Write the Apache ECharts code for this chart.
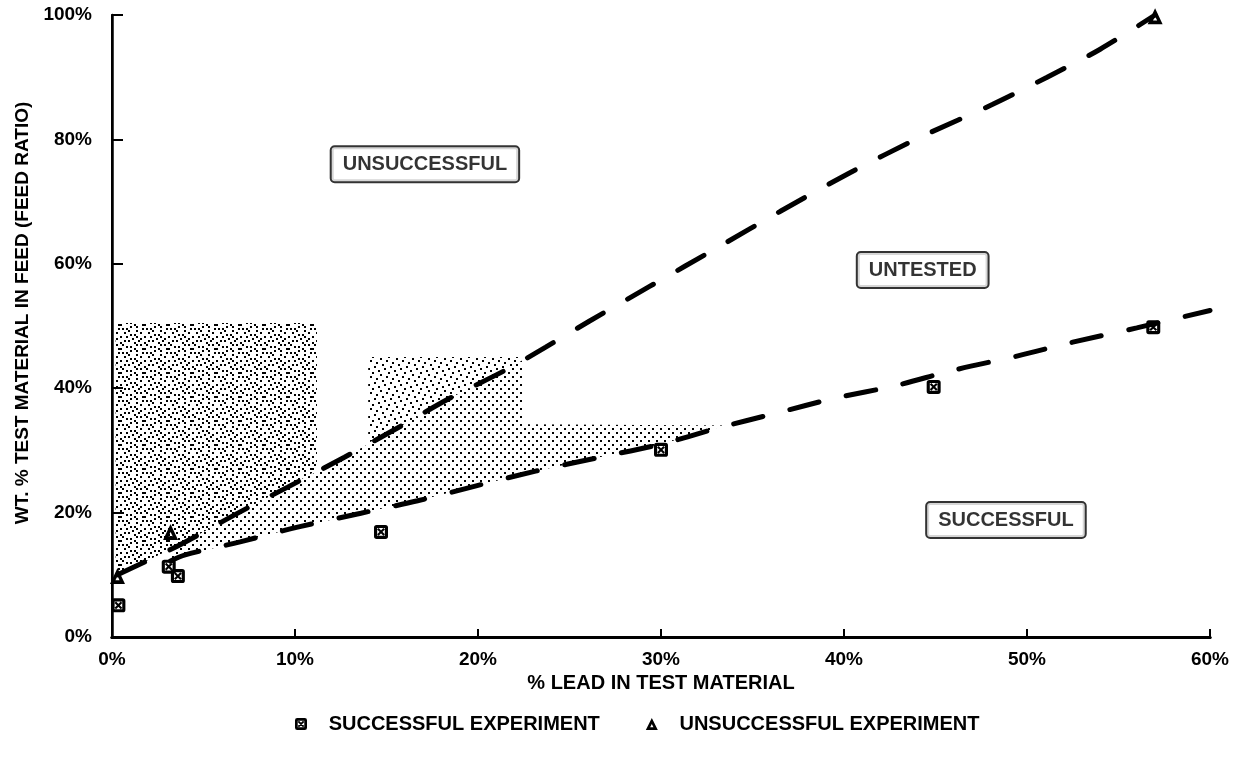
<!DOCTYPE html>
<html>
<head>
<meta charset="utf-8">
<script src="https://cdn.jsdelivr.net/npm/echarts@6/dist/echarts.min.js"></script>
<style>
  html, body { margin: 0; padding: 0; background: #fff; }
  #chart { width: 1240px; height: 764px; }
</style>
</head>
<body>
<div id="chart"></div>
<script>
// Experiment results: [% lead in test material, wt. % test material in feed]
const successful = [[0.35, 5.1], [3.1, 11.3], [3.6, 9.8], [14.7, 16.9], [30.0, 30.1], [44.9, 40.2], [56.9, 49.8]];
const unsuccessful = [[0.3, 9.8], [3.2, 16.9], [57.0, 99.8]];

// Upper boundary (between unsuccessful / untested) and lower boundary (untested / successful)
const upperBoundary = [[0.3, 10], [3.7, 14.8], [6.8, 19.8], [9.6, 24.1], [12.7, 28.9], [15.6, 33.6],
  [18.4, 38.3], [21.5, 42.9], [23.7, 46.6], [26.1, 50.8], [29.4, 56.4], [33.2, 62.8], [36.5, 68.4],
  [40.3, 74.6], [44.2, 80.4], [48.1, 85.6], [51.1, 90.0], [54.0, 94.5], [57.0, 100]];
const lowerBoundary = [[3.2, 12.2], [4.0, 13.2], [7.0, 15.3], [10.2, 17.7], [13.6, 19.9], [16.7, 21.9],
  [19.9, 24.3], [23.2, 26.7], [26.5, 28.8], [30.0, 31.0], [33.0, 33.5], [36.3, 36.0], [39.5, 38.4],
  [42.8, 40.4], [46.0, 42.9], [49.5, 45.2], [52.5, 47.4], [56.0, 49.7], [60.0, 52.5]];

// Shaded regions (outlines in axis units)
const denseRegion = [[0.2, 50.5], [11.2, 50.5], [11.2, 26.8], [9.6, 24.1], [6.8, 19.8], [3.7, 14.8], [0.3, 10], [0.2, 10]];
const dottedRegion = [[3.2, 12.2], [4.0, 13.2], [7.0, 15.3], [10.2, 17.7], [13.6, 19.9], [16.7, 21.9],
  [19.9, 24.3], [23.2, 26.7], [26.5, 28.8], [30.0, 31.0], [33.5, 34.0], [22.5, 34.2], [22.5, 44.6],
  [21.5, 42.9], [18.4, 38.3], [15.6, 33.6], [12.7, 28.9], [9.6, 24.1], [6.8, 19.8], [3.7, 14.8], [3.2, 14.0]];
const lightRegion = [[14.0, 45], [22.5, 45], [22.5, 44.6], [21.5, 42.9], [18.4, 38.3], [15.6, 33.6], [14.0, 31.2]];

// Zone captions: [x, y, text]
const zoneLabels = [[17.1, 76.0, 'UNSUCCESSFUL'], [44.3, 59.0, 'UNTESTED'], [48.85, 18.8, 'SUCCESSFUL']];

const legendNames = ['SUCCESSFUL EXPERIMENT', 'UNSUCCESSFUL EXPERIMENT'];
const X_MIN = 0, X_MAX = 60, X_STEP = 10;
const Y_MIN = 0, Y_MAX = 100, Y_STEP = 20;

const FONT = "'Liberation Sans', Arial, sans-serif";

// Marker glyphs: a rounded square with an X inside, and a heavy open triangle
const squareMark = 'path://M3,0H13A3,3 0 0 1 16,3V13A3,3 0 0 1 13,16H3A3,3 0 0 1 0,13V3A3,3 0 0 1 3,0Z' +
  'M3.6,3.6V12.4H12.4V3.6Z' +
  'M5.3,3.6L12.4,10.7L10.7,12.4L3.6,5.3Z' +
  'M12.4,5.3L5.3,12.4L3.6,10.7L10.7,3.6Z';
const triangleMark = 'path://M8,0L16,16L0,16Z M8,8L5.8,12.3L10.2,12.3Z';

// Stipple textures
function bitmapPattern(rows, cell) {
  const c = document.createElement('canvas');
  c.width = rows[0].length * cell;
  c.height = rows.length * cell;
  const g = c.getContext('2d');
  g.fillStyle = '#000';
  rows.forEach((r, j) => {
    for (let i = 0; i < r.length; i++) if (r[i] === 'x') g.fillRect(i * cell, j * cell, cell, cell);
  });
  return { image: c, repeat: 'repeat' };
}
const densePattern = bitmapPattern([
  'x..x....x...',
  '......x...x.',
  '..x.x....x..',
  'x......x....',
  '.x......x.x.',
  '...x.x......',
  'x......x...x',
  '.....x..x...',
  '.x.x.......x',
  '....x...x...',
  '..x.......x.',
  '.....x.x....'
], 2);
const dotPattern = bitmapPattern([
  'x...',
  '....',
  '..x.',
  '....'
], 2);
const lightPattern = bitmapPattern([
  'x.......',
  '.....x..',
  '..x.....',
  '......x.',
  '.x......',
  '....x...',
  '.......x',
  '...x....'
], 2);

function regionSeries(verts, fill) {
  return {
    type: 'custom',
    silent: true,
    z: 1,
    data: verts,
    encode: { x: 0, y: 1 },
    renderItem: (params, api) => params.dataIndex === 0 ? {
      type: 'polygon',
      shape: { points: verts.map(v => api.coord(v)) },
      style: { fill: fill }
    } : null
  };
}

const chart = echarts.init(document.getElementById('chart'), null, { renderer: 'canvas' });

const boldText = { fontFamily: FONT, fontWeight: 'bold', color: '#000' };

chart.setOption({
  backgroundColor: '#fff',
  animation: false,
  grid: { left: 112, right: 30, top: 15, bottom: 127, outerBoundsMode: 'none', containLabel: false },
  legend: {
    data: [
      { name: legendNames[0], icon: squareMark, itemStyle: { color: '#000' } },
      { name: legendNames[1], icon: triangleMark, itemStyle: { color: '#000' } }
    ],
    left: 290, top: 709,
    itemWidth: 12, itemHeight: 12, itemGap: 46,
    formatter: n => '   ' + n,
    textStyle: Object.assign({ fontSize: 20 }, boldText)
  },
  xAxis: [{
    type: 'value', min: X_MIN, max: X_MAX, interval: X_STEP,
    name: '% LEAD IN TEST MATERIAL', nameLocation: 'middle', nameGap: 36,
    nameTextStyle: Object.assign({ fontSize: 20 }, boldText),
    axisLine: { lineStyle: { color: '#000', width: 3 } },
    axisTick: { inside: true, length: 8, lineStyle: { color: '#000', width: 2 } },
    axisLabel: Object.assign({ fontSize: 19, margin: 13, formatter: '{value}%' }, boldText),
    splitLine: { show: false }
  }, {
    type: 'value', position: 'top', min: X_MIN, max: X_MAX,
    axisLine: { show: true, lineStyle: { color: '#000', width: 3 } },
    axisTick: { show: false }, axisLabel: { show: false }, splitLine: { show: false }
  }],
  yAxis: [{
    type: 'value', min: Y_MIN, max: Y_MAX, interval: Y_STEP,
    name: 'WT. % TEST MATERIAL IN FEED (FEED RATIO)', nameLocation: 'middle', nameGap: 79,
    nameTextStyle: Object.assign({ fontSize: 19, padding: [0, 0, 0, 26] }, boldText),
    axisLine: { lineStyle: { color: '#000', width: 2.5 } },
    axisTick: { inside: true, length: 11, lineStyle: { color: '#000', width: 2 } },
    axisLabel: Object.assign({ fontSize: 19, margin: 20, formatter: '{value}%' }, boldText),
    splitLine: { show: false }
  }, {
    type: 'value', position: 'right', min: Y_MIN, max: Y_MAX,
    axisLine: { show: true, lineStyle: { color: '#000', width: 2 } },
    axisTick: { show: false }, axisLabel: { show: false }, splitLine: { show: false }
  }],
  series: [
    regionSeries(denseRegion, densePattern),
    regionSeries(dottedRegion, dotPattern),
    regionSeries(lightRegion, lightPattern),
    {
      type: 'line', data: upperBoundary, showSymbol: false, smooth: 0.3, z: 3, silent: true,
      lineStyle: { color: '#000', width: 5, type: [30, 28], cap: 'round' }
    },
    {
      type: 'line', data: lowerBoundary, showSymbol: false, smooth: 0.3, z: 3, silent: true,
      lineStyle: { color: '#000', width: 5, type: [30, 28], cap: 'round' }
    },
    {
      name: legendNames[0], type: 'scatter', data: successful, z: 5,
      symbol: squareMark, symbolSize: 14, itemStyle: { color: '#000', opacity: 1 }
    },
    {
      name: legendNames[1], type: 'scatter', data: unsuccessful, z: 5,
      symbol: triangleMark, symbolSize: [15, 16], itemStyle: { color: '#000', opacity: 1 }
    },
    {
      type: 'scatter', data: zoneLabels, z: 6, symbolSize: 1, silent: true,
      itemStyle: { color: 'rgba(0,0,0,0)' },
      label: Object.assign({
        show: true, position: 'inside', fontSize: 20,
        formatter: p => p.value[2],
        backgroundColor: '#fff', borderColor: '#000', borderWidth: 2, borderRadius: 3,
        padding: [8, 11, 6, 11]
      }, boldText)
    }
  ]
});
</script>
</body>
</html>
